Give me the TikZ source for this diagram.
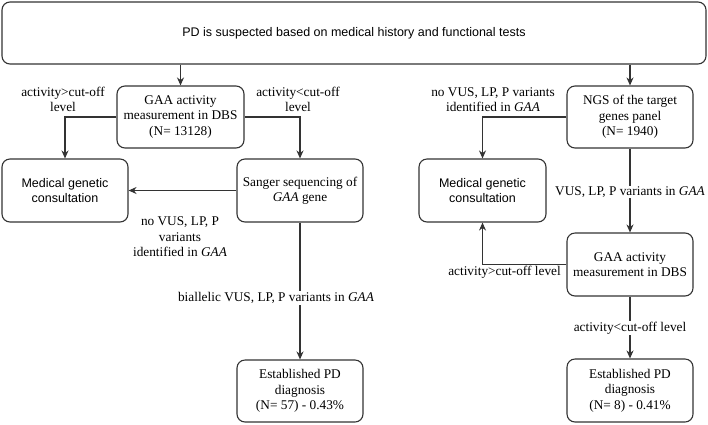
\documentclass[tikz,border=0pt]{standalone}
\usepackage{fontspec}
\setmainfont{Liberation Serif}
\newfontfamily\arialf{Liberation Sans}
\usetikzlibrary{arrows.meta}
\tikzset{
  box/.style={draw=black!80, line width=1.1pt, rounded corners=8pt, inner sep=0pt, align=center,
    font=\fontsize{13.3}{15.5}\selectfont},
  sbox/.style={box, font=\arialf\fontsize{12.5}{15.5}\selectfont},
  conn/.style={draw=black!80, line width=1.1pt, -{Stealth[length=8pt,width=7pt]}},
  plain/.style={draw=black!80, line width=1.1pt},
  lbl/.style={inner sep=1pt, align=center, font=\fontsize{13.3}{15.5}\selectfont},
  lblw/.style={lbl, fill=white}
}
\begin{document}
\begin{tikzpicture}[x=1pt,y=-1pt]
\useasboundingbox (0,0) rectangle (708,424);
% boxes
\node[sbox, minimum width=704pt, minimum height=62pt] (top) at (354,33) {PD is suspected based on medical history and functional tests};
\node[box, minimum width=127pt, minimum height=62pt] (gaa1) at (180.5,117) {GAA activity\\measurement in DBS\\(N= 13128)};
\node[sbox, minimum width=126pt, minimum height=63pt] (med1) at (65,190.5) {Medical genetic\\consultation};
\node[box, minimum width=126pt, minimum height=63pt] (sanger) at (300,190.5) {Sanger sequencing of\\\textit{GAA} gene};
\node[box, minimum width=126pt, minimum height=62pt] (est1) at (300,391) {Established PD\\diagnosis\\(N= 57) - 0.43\%};
\node[box, minimum width=126pt, minimum height=62pt] (ngs) at (630,117) {NGS of the target\\genes panel\\(N= 1940)};
\node[sbox, minimum width=127pt, minimum height=63pt] (med2) at (482.5,190.5) {Medical genetic\\consultation};
\node[box, minimum width=126pt, minimum height=63pt] (gaa2) at (630,264.5) {GAA activity\\measurement in DBS};
\node[box, minimum width=126pt, minimum height=63pt] (est2) at (630,390.5) {Established PD\\diagnosis\\(N= 8) - 0.41\%};
% connectors
\draw[conn] (top.south -| gaa1.north) -- (gaa1.north);
\draw[conn] (top.south -| ngs.north) -- (ngs.north);
\draw[conn] (gaa1.west) -| (med1.north);
\draw[conn] (gaa1.east) -| (sanger.north);
\draw[conn] (sanger.west) -- (med1.east);
\draw[conn] (sanger.south) -- (est1.north);
\draw[conn] (ngs.west) -| (med2.north);
\draw[conn] (ngs.south) -- (gaa2.north);
\draw[conn] (gaa2.west) -| (med2.south);
\draw[conn] (gaa2.south) -- (est2.north);
% labels
\node[lbl] (l1) at (63,99.5) {activity>cut-off\\level};
\node[lbl] (l2) at (298,99.5) {activity<cut-off\\level};
\node[lbl] (l3) at (493,99.5) {no VUS, LP, P variants\\identified in \textit{GAA}};
\node[lbl] (l4) at (180,237) {no VUS, LP, P\\variants\\identified in \textit{GAA}};
\node[lblw] (l5) at (276,298) {biallelic VUS, LP, P variants in \textit{GAA}};
\node[lblw] (l6) at (630,192) {VUS, LP, P variants in \textit{GAA}};
\node[lbl] (l7) at (504.5,272) {activity>cut-off level};
\node[lblw] (l8) at (630,328) {activity<cut-off level};
\end{tikzpicture}
\end{document}
